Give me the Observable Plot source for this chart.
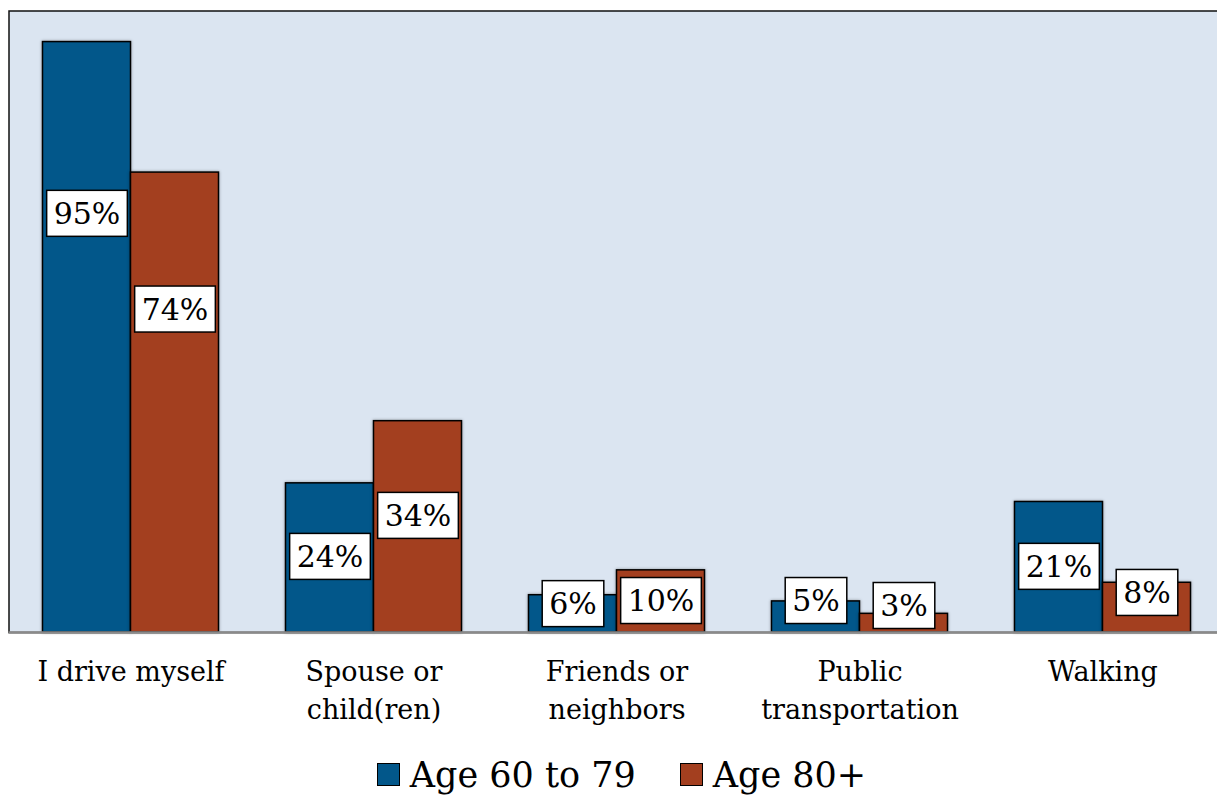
<!DOCTYPE html>
<html>
<head>
<meta charset="utf-8">
<script src="https://cdn.jsdelivr.net/npm/d3@7"></script>
<script src="https://cdn.jsdelivr.net/npm/@observablehq/plot@0.6"></script>
<style>
  body { margin: 0; background: #fff; font-family: "DejaVu Serif", serif; }
  #chart svg { display: block; overflow: hidden; }
  #chart g[aria-label="bar"] rect { filter: drop-shadow(0 0 1.5px rgba(0,0,0,0.35)); }
  .legend { display: flex; justify-content: center; align-items: center; height: 59px;
            font-size: 35px; color: #000; padding-left: 26px; padding-top: 10px; box-sizing: border-box; }
  .legend .item { display: flex; align-items: center; margin: 0 22px; }
  .legend .sw { width: 21px; height: 21px; border: 1.5px solid #000; margin-right: 10px; }
</style>
</head>
<body>
<div id="chart"></div>
<script>
// Modes of transportation, share of respondents by age group (%)
const categories = ["I drive myself", "Spouse or\nchild(ren)", "Friends or\nneighbors", "Public\ntransportation", "Walking"];
const seriesNames = ["Age 60 to 79", "Age 80+"];
const age60to79 = [95, 24, 6, 5, 21];
const age80plus = [74, 34, 10, 3, 8];

const colors = ["#02578a", "#a33f1f"];
const font = "DejaVu Serif";

// Where each value tag sits along the bar (in percentage units)
const tagAt60 = [67.3, 12.1, 4.5, 5.0, 10.5];
const tagAt80 = [51.9, 18.7, 5.0, 4.2, 6.3];

const rows60 = categories.map((c, i) => ({category: c, value: age60to79[i], tag: tagAt60[i]}));
const rows80 = categories.map((c, i) => ({category: c, value: age80plus[i], tag: tagAt80[i]}));

// Each category band holds two adjacent bars, 88px wide, centred on the band
const band = 243, barW = 88, side = band / 2;

const plot = Plot.plot({
  width: 1217,
  height: 740,
  marginLeft: 8.5,
  marginRight: -7,
  marginTop: 10.5,
  marginBottom: 108,
  x: {domain: categories, padding: 0},
  y: {domain: [0, 100], axis: null},
  style: {color: "#000", background: "#fff"},
  marks: [
    Plot.frame({fill: "#dbe5f1", stroke: "#111", strokeWidth: 1.5}),
    Plot.barY(rows60, {x: "category", y: "value", fill: colors[0], stroke: "#000", strokeWidth: 1.5,
      insetLeft: side - barW, insetRight: side}),
    Plot.barY(rows80, {x: "category", y: "value", fill: colors[1], stroke: "#000", strokeWidth: 1.5,
      insetLeft: side, insetRight: side - barW}),
    Plot.ruleY([0], {stroke: "#8a8a8a", strokeWidth: 2.5}),
    Plot.text(rows60, {x: "category", y: "tag", text: d => `${d.value}%`, dx: -barW / 2,
      fontSize: 30, fontFamily: font, fill: "#000", className: "tag"}),
    Plot.text(rows80, {x: "category", y: "tag", text: d => `${d.value}%`, dx: barW / 2,
      fontSize: 30, fontFamily: font, fill: "#000", className: "tag"}),
    Plot.axisX({tickSize: 0, tickPadding: 21, fontSize: 27, fontFamily: font, lineHeight: 1.42,
      label: null, fill: "#000"})
  ]
});

const chart = document.getElementById("chart");
chart.appendChild(plot);

// White boxed backgrounds behind the value tags
plot.querySelectorAll("g.tag text").forEach(t => {
  const b = t.getBBox();
  const padX = 7, padY = 5.5;
  const r = document.createElementNS("http://www.w3.org/2000/svg", "rect");
  r.setAttribute("x", b.x - padX);
  r.setAttribute("y", b.y - padY);
  r.setAttribute("width", b.width + 2 * padX);
  r.setAttribute("height", b.height + 2 * padY);
  r.setAttribute("fill", "#fff");
  r.setAttribute("stroke", "#000");
  r.setAttribute("stroke-width", 1.5);
  const tr = t.getAttribute("transform");
  if (tr) r.setAttribute("transform", tr);
  t.parentNode.insertBefore(r, t);
});

// Legend
const legend = document.createElement("div");
legend.className = "legend";
seriesNames.forEach((name, i) => {
  const item = document.createElement("div");
  item.className = "item";
  const sw = document.createElement("span");
  sw.className = "sw";
  sw.style.background = colors[i];
  const label = document.createElement("span");
  label.textContent = name;
  item.appendChild(sw);
  item.appendChild(label);
  legend.appendChild(item);
});
chart.appendChild(legend);
</script>
</body>
</html>
